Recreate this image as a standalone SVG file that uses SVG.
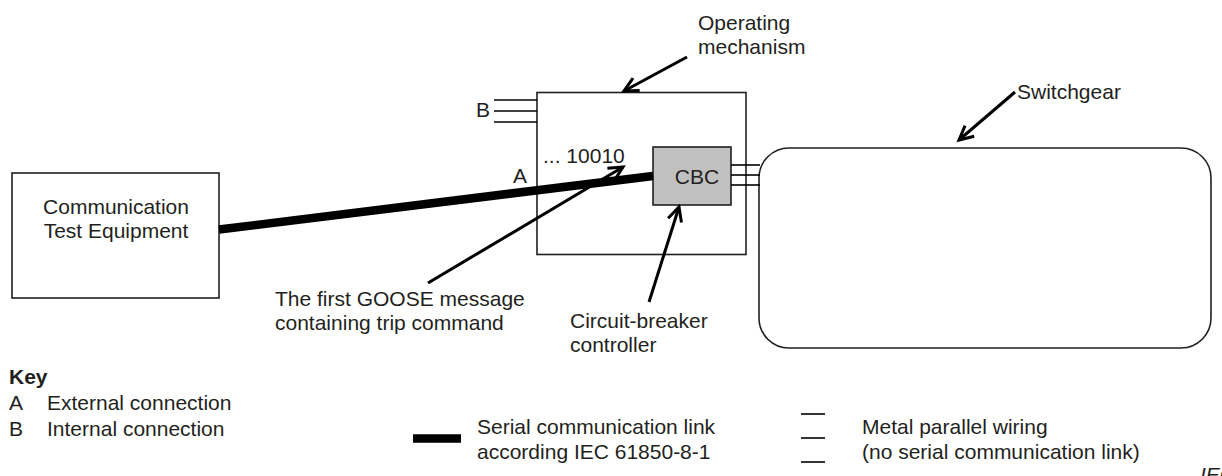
<svg xmlns="http://www.w3.org/2000/svg" width="1222" height="476" viewBox="0 0 1222 476">
<style>
text{font-family:"Liberation Sans",Arial,sans-serif;font-size:21px;fill:#231f20}
.box{fill:#fff;stroke:#231f20;stroke-width:1.6}
.wire{stroke:#000;stroke-width:1.6;fill:none}
.ptr{stroke:#000;stroke-width:3;fill:none;marker-end:url(#ah)}
.serial{stroke:#000;stroke-width:8.5;fill:none}
</style>
<defs>
<marker id="ah" markerWidth="20" markerHeight="20" refX="16" refY="8" orient="auto" markerUnits="userSpaceOnUse" overflow="visible">
<path d="M2,1 L16,8 L2,15" fill="none" stroke="#000" stroke-width="3"/>
</marker>
</defs>
<rect width="1222" height="476" fill="#fff"/>

<g id="switchgear">
<rect class="box" x="759" y="148" width="452" height="200" rx="30" ry="30"/>
</g>
<g id="operating-mechanism">
<rect class="box" x="537" y="92.5" width="209" height="162"/>
</g>
<g id="test-equipment">
<rect class="box" x="12" y="173" width="207" height="125"/>
<text x="116" y="214" text-anchor="middle">Communication</text>
<text x="116" y="238" text-anchor="middle">Test Equipment</text>
</g>
<g id="cbc">
<rect x="653" y="147" width="78" height="58" fill="#c0c0c0" stroke="#231f20" stroke-width="1.6"/>
<text x="697" y="184" text-anchor="middle">CBC</text>
</g>

<g id="connectors">
<line class="serial" x1="219" y1="229.5" x2="653" y2="176"/>
<line class="wire" x1="731" y1="165" x2="760" y2="165"/>
<line class="wire" x1="731" y1="175" x2="760" y2="175"/>
<line class="wire" x1="731" y1="185" x2="760" y2="185"/>
<line class="wire" x1="494" y1="100" x2="537" y2="100"/>
<line class="wire" x1="494" y1="111" x2="537" y2="111"/>
<line class="wire" x1="494" y1="122" x2="537" y2="122"/>
<line class="ptr" x1="687" y1="57" x2="624" y2="91"/>
<line class="ptr" x1="1015" y1="92" x2="959" y2="140"/>
<line class="ptr" x1="649" y1="302" x2="679" y2="207"/>
<line class="ptr" x1="428" y1="283" x2="623" y2="167"/>
</g>

<g id="labels">
<text x="698" y="30">Operating</text>
<text x="698" y="54">mechanism</text>
<text x="1017" y="99">Switchgear</text>
<text x="476" y="117">B</text>
<text x="513" y="183">A</text>
<text x="543" y="163">... 10010</text>
<text x="275" y="306">The first GOOSE message</text>
<text x="275" y="330">containing trip command</text>
<text x="570" y="328">Circuit-breaker</text>
<text x="570" y="352">controller</text>
</g>

<g id="key">
<text x="9" y="384" font-weight="bold">Key</text>
<text x="9" y="410">A</text>
<text x="47" y="410">External connection</text>
<text x="9" y="436">B</text>
<text x="47" y="436">Internal connection</text>
<line x1="413" y1="438.5" x2="461" y2="438.5" stroke="#000" stroke-width="8.5"/>
<text x="477" y="434">Serial communication link</text>
<text x="477" y="459">according IEC 61850-8-1</text>
<line class="wire" x1="801" y1="414" x2="825" y2="414"/>
<line class="wire" x1="801" y1="438" x2="825" y2="438"/>
<line class="wire" x1="801" y1="462" x2="825" y2="462"/>
<text x="862" y="434">Metal parallel wiring</text>
<text x="862" y="459">(no serial communication link)</text>
<text x="1200" y="482" font-size="13" font-style="italic">IEC</text>
</g>
</svg>
